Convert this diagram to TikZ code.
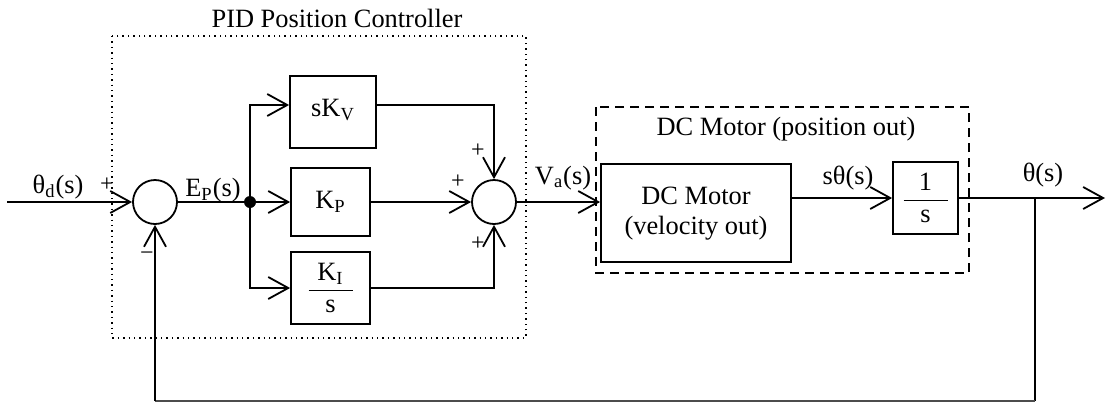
\documentclass[tikz,border=0pt]{standalone}
\usepackage{fontspec}
\setmainfont{Liberation Serif}
\usepackage{amsmath}
\usetikzlibrary{arrows.meta}

\begin{document}
\begin{tikzpicture}[
  x=0.5pt, y=-0.5pt,
  font=\fontsize{13.2}{15}\selectfont,
  block/.style={draw, line width=0.9pt, inner sep=0pt, align=center},
  summer/.style={draw, circle, line width=0.9pt, minimum size=22pt, inner sep=0pt},
  joint/.style={circle, fill, minimum size=6pt, inner sep=0pt},
  sign/.style={inner sep=0pt, font=\fontsize{12}{13}\selectfont},
  flow/.style={-{Straight Barb[length=10pt, width=11pt, line width=0.9pt]}, line width=0.9pt},
  wire/.style={line width=0.9pt},
  back/.style={line width=0.7pt, draw=black!70},
  pidframe/.style={draw, dotted, line width=0.7pt},
  motorframe/.style={draw, dash pattern=on 4.5pt off 3pt, line width=0.8pt}
]
\useasboundingbox (0,0) rectangle (1107,402);

% frames
\draw[pidframe] (112,36) rectangle (526,338);
\node (pidtitle) at (337,18) {PID Position Controller};
\draw[motorframe] (596,107) rectangle (969,273);
\node (motortitle) at (786,129) {DC Motor (position out)};

% blocks
\node[summer] (sum1) at (155,202) {};
\node[joint] (ep) at (250,202) {};
\node[block, minimum width=43pt, minimum height=36pt] (skv) at (333,112)
  {\raisebox{4pt}{sK\textsubscript{V}}};
\node[block, minimum width=39.5pt, minimum height=34pt] (kp) at (330.5,202)
  {K\textsubscript{P}};
\node[block, minimum width=39.5pt, minimum height=36pt] (ki) at (330.5,288)
  {$\dfrac{\makebox[22pt]{K\textsubscript{I}}}{\text{s}}$};
\node[summer] (sum2) at (494,202) {};
\node[block, minimum width=95pt, minimum height=49pt] (motor) at (696,213)
  {\raisebox{3pt}{\begin{tabular}{@{}c@{}}DC Motor\\(velocity out)\end{tabular}}};
\node[block, minimum width=32.5pt, minimum height=36pt] (integ) at (925.5,198)
  {$\dfrac{\makebox[22pt]{1}}{\text{s}}$};

% labels
\node (thd) at (58,187) {θ\textsubscript{d}(s)};
\node[sign] (pin) at (107,185) {+};
\node[sign] (mfb) at (147,256) {−};
\node (eps) at (213,190) {E\textsubscript{P}(s)};
\node[sign] (pv) at (478,151) {+};
\node[sign] (pp) at (458,182) {+};
\node[sign] (pi) at (478,244) {+};
\node (vas) at (563,178) {V\textsubscript{a}(s)};
\node (sths) at (848,178) {sθ(s)};
\node (ths) at (1043,175) {θ(s)};

\coordinate (in) at (7,202);
\coordinate (out) at (1105,198);
\coordinate (tap) at (1035,198);
\coordinate (fbr) at (1035,401);
\coordinate (fbl) at (155,401);

% connectors
\draw[flow] (in) -- (sum1.west);
\draw[wire] (sum1.east) -- (ep.center);
\draw[flow] (ep.center) |- ([yshift=3.5pt]skv.west);
\draw[flow] (ep.center) -- (kp.west);
\draw[flow] (ep.center) |- (ki.west);
\draw[flow] ([yshift=3.5pt]skv.east) -| (sum2.north);
\draw[flow] (kp.east) -- (sum2.west);
\draw[flow] (ki.east) -| (sum2.south);
\draw[flow] (sum2.east) -- (sum2.east -| motor.west);
\draw[flow] (motor.east |- integ.west) -- (integ.west);
\draw[flow] (integ.east) -- (out);
\draw[wire] (tap) -- (fbr);
\draw[back] (fbr) -- (fbl);
\draw[flow] (fbl) -- (sum1.south);
\end{tikzpicture}
\end{document}
